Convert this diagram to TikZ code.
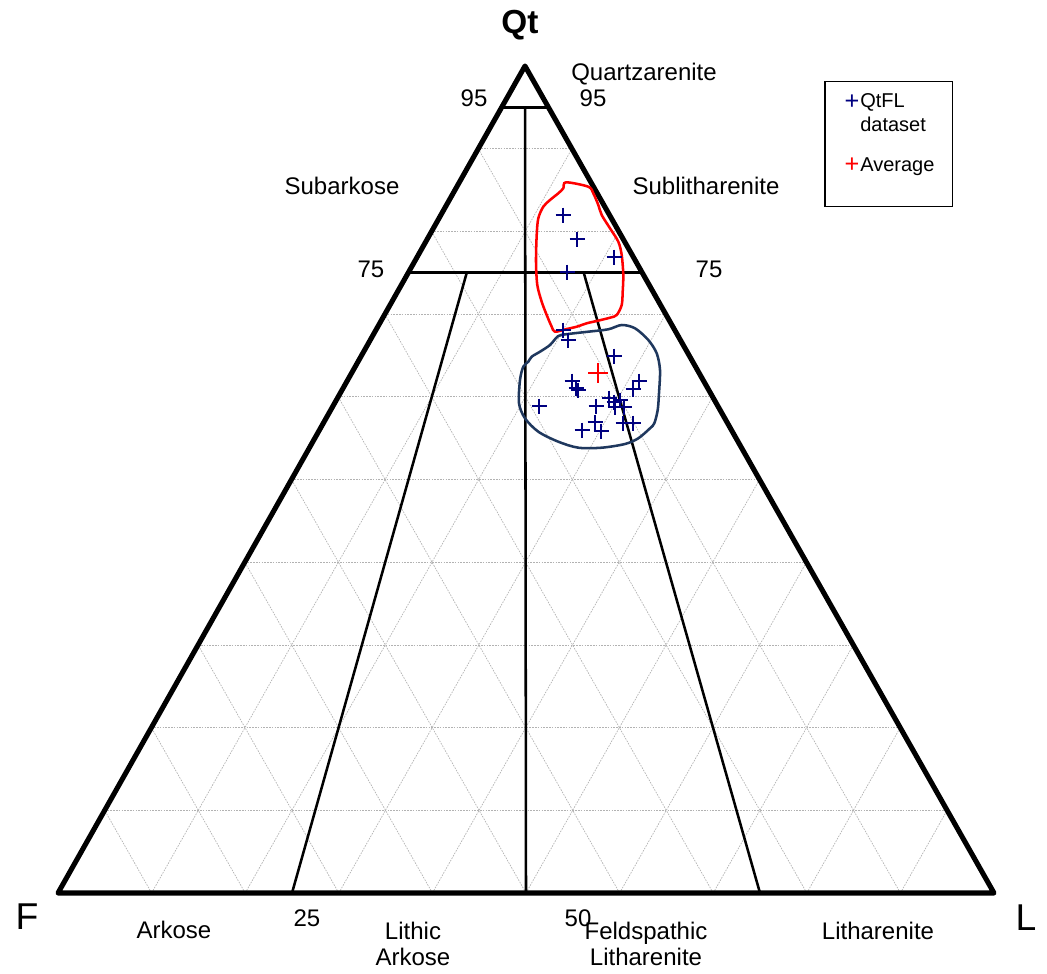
\documentclass[tikz,border=0pt]{standalone}
\usepackage{fontspec}
\setmainfont{Liberation Sans}
\begin{document}
\begin{tikzpicture}[x=0.75pt,y=-0.75pt,
  edge/.style={line width=3.8pt,line join=round,line cap=round},
  classline/.style={line width=1.9pt},
  gridline/.style={gray!60,line width=0.5pt,dash pattern=on 1.2pt off 0.9pt},
  datacross/.style={color={rgb,255:red,0;green,0;blue,128},line width=1.6pt},
  avgcross/.style={red,line width=1.5pt},
  lbl/.style={inner sep=0pt,anchor=base,font=\fontsize{18}{20}\selectfont},
  leg/.style={inner sep=0pt,anchor=base west,font=\fontsize{15}{17}\selectfont}]
\useasboundingbox (0,0) rectangle (1047,974);
\fill[white] (0,0) rectangle (1047,974);
\coordinate (F) at (58,893);
\coordinate (L) at (994,893);
\coordinate (Q) at (525,66);
% grid
\foreach \k in {1,...,9}{
  \draw[gridline] ({58+46.7*\k},{893-82.7*\k}) -- ({994-46.9*\k},{893-82.7*\k});
  \draw[gridline] ({58+93.6*\k},893) -- ({525+46.9*\k},{66+82.7*\k});
  \draw[gridline] ({994-93.6*\k},893) -- ({525-46.7*\k},{66+82.7*\k});
}
% classification lines
\coordinate (q95l) at (501.65,107.35);
\coordinate (q95r) at (548.45,107.35);
\coordinate (q95m) at (525.05,107.35);
\coordinate (q75l) at (408.25,272.75);
\coordinate (q75r) at (642.25,272.75);
\coordinate (a75) at (466.75,272.75);
\coordinate (b75) at (583.75,272.75);
\coordinate (f25) at (292,893);
\coordinate (f50) at (526,893);
\coordinate (f75) at (760,893);
\draw[classline] (q95l) -- (q95r);
\draw[classline] (q75l) -- (q75r);
\draw[classline] (q95m) -- (f50);
\draw[classline] (a75) -- (f25);
\draw[classline] (b75) -- (f75);
% outer triangle
\draw[edge] (F) -- (L) -- (Q) -- cycle;
% outlines
\draw[red,line width=1.9pt] plot[smooth cycle,tension=0.5] coordinates {
 (566,182.3) (588.3,186.7) (593.3,193.3) (598.3,205) (601.7,215) (610,228.3)
 (618.3,241.7) (621.7,255) (623.3,275) (622.7,291.7) (621.7,305) (616.7,315)
 (610,317.7) (596.7,321) (586.7,323.3) (576.7,326.7) (566.7,329) (555,331.7)
 (551.7,326.7) (546.7,315) (541.7,301.7) (537.3,285) (536,261.7) (536.7,235)
 (538.3,218.3) (543.3,206.7) (550,200) (558.3,193.3) (563.3,188.3)};
\draw[color={rgb,255:red,31;green,56;blue,94},line width=1.9pt] plot[smooth cycle,tension=0.5] coordinates {
 (558.3,336) (568.3,334) (588.3,331.7) (608.3,329.3) (621.7,325) (635,328.3)
 (648.3,340) (656.7,353.3) (660,370) (659,393.3) (657.7,410) (654.3,423.3)
 (650,428.3) (638.3,438.3) (625,444) (601.7,447.7) (578.3,447.7) (558.3,441.7)
 (538.3,431.7) (525,418.3) (519,403.3) (520,380) (523.3,366.7) (528.3,361.7)
 (531.7,356.7) (540,351.7) (550,345)};
% data
\foreach \x/\y in {563/215,577/239,614/257,567/272,
  563/330,568/340,614/356,572/381,576/388,578/390,639/381,633/389,
  539/406,596/406,609/398,614/402,615/407,620/400,624/407,
  595/422,601/431,582/430,623/423,633/423}{
  \draw[datacross] (\x-7.5,\y) -- (\x+7.5,\y) (\x,\y-7.5) -- (\x,\y+7.5);
}
\draw[avgcross] (588,373) -- (608,373) (598,363) -- (598,383);
% labels
\node[inner sep=0pt,anchor=base,font=\fontsize{25}{27}\selectfont\bfseries] (tQt) at (520,34) {Qt};
\node[lbl] (tQa) at (644,81) {Quartzarenite};
\node[lbl] (t95a) at (474,107) {95};
\node[lbl] (t95b) at (593,107) {95};
\node[lbl] (tSa) at (342,195) {Subarkose};
\node[lbl] (tSl) at (706,195) {Sublitharenite};
\node[lbl] (t75a) at (371,277) {75};
\node[lbl] (t75b) at (709,277) {75};
\node[inner sep=0pt,anchor=base,font=\fontsize{28}{30}\selectfont] (tF) at (27,929) {F};
\node[inner sep=0pt,anchor=base,font=\fontsize{28}{30}\selectfont] (tL) at (1026,930) {L};
\node[lbl] (tAr) at (174,938) {Arkose};
\node[lbl] (t25) at (307,926) {25};
\node[lbl] (tLA1) at (413,939) {Lithic};
\node[lbl] (tLA2) at (413,965) {Arkose};
\node[lbl] (t50) at (578,926) {50};
\node[lbl] (tFL1) at (646,939) {Feldspathic};
\node[lbl] (tFL2) at (646,965) {Litharenite};
\node[lbl] (tLi) at (878,939) {Litharenite};
% legend
\draw[line width=0.8pt] (825,81.7) rectangle (952.7,206.7);
\node[inner sep=0pt,anchor=base,font=\fontsize{19}{20}\selectfont,text={rgb,255:red,0;green,0;blue,128}] (lp1) at (852,109) {+};
\node[leg] (lq) at (860,108) {QtFL};
\node[leg] (ld) at (860,131.5) {dataset};
\node[inner sep=0pt,anchor=base,font=\fontsize{19}{20}\selectfont,text=red] (lp2) at (852,172.5) {+};
\node[leg] (la) at (860,171.5) {Average};
\end{tikzpicture}
\end{document}
